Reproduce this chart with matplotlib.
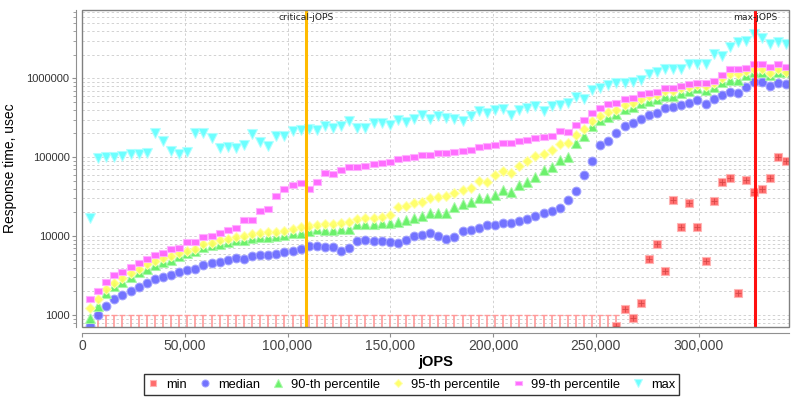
import numpy as np
import matplotlib
matplotlib.use('Agg')
import matplotlib.pyplot as plt
from matplotlib.patches import Rectangle
from matplotlib.ticker import FixedLocator, FuncFormatter, NullFormatter

# RT curve: one point per 1% injection-rate step
step_jops = 3940
n_points = 87
jops = step_jops * np.arange(1, n_points + 1)

critical_jops = 108900
max_jops = 327600

# values in usec; 0 = below the plotted range
min_us = [np.nan] + [0] * 64 + [
    720, 1202, 925, 1407, 5175, 8015, 3580, 28900, 12940, 26040, 12940,
    4830, 27870, 48100, 54000, 1900, 51900, 35900, 39200, 55000, 100700, 88800]

median_us = [
    726, 1000, 1300, 1610, 1808, 2015, 2284, 2518, 2833, 3000, 3213, 3508,
    3718, 3795, 4305, 4562, 4697, 4933, 5234, 5175, 5598, 5718,
    5825, 5935, 6240, 6535, 6810, 7436, 7570, 7210, 7210, 6535, 7000, 8670,
    9020, 8755, 8670, 8497, 8180, 9020, 10110, 10410, 10900,
    9930, 9190, 9650, 11610, 11850, 12680, 13960, 13750, 14650, 14780, 15520,
    16620, 18150, 19460, 20800, 22900, 28900, 36950, 59000, 88800, 143900, 161000,
    205000, 249000, 269000, 302000, 343000, 360000, 421000, 429000, 455000,
    482000, 531000, 469000, 542000, 614000, 665000, 658000, 776000, 889000,
    905000, 792000, 880000, 839000]

p90_us = [
    908, 1300, 1918, 2333, 2645, 3034, 3508, 3865, 4345, 4745, 5025, 5546,
    6110, 6415, 7210, 7640, 8015, 8415, 8845, 8925, 9380, 9800,
    9820, 10020, 10230, 10860, 11050, 11710, 12400, 11940, 12050, 12180, 12400,
    14230, 14230, 14360, 14500, 14650, 14960, 16000, 16960, 17810, 19400,
    19630, 19630, 23170, 25290, 27050, 30130, 30130, 33180, 38040, 35900, 44440,
    48500, 56100, 68200, 75100, 91400, 100600, 151400, 185600, 250800, 296000, 326000,
    350000, 405000, 437000, 482000, 516000, 542000, 603000, 603000, 658000,
    690000, 747000, 711000, 783000, 897000, 951000, 951000, 1112000, 1191000,
    1191000, 1102000, 1191000, 1191000]

p95_us = [
    1216, 1610, 2138, 2570, 2920, 3377, 3828, 4390, 4876, 5275, 5646, 6055,
    6475, 6865, 7945, 8247, 8925, 9105, 9820, 10110, 10630, 10900,
    11180, 11280, 11510, 12200, 12930, 13430, 13960, 14100, 14100, 14520, 14960,
    16330, 16960, 17100, 17620, 18500, 23370, 24060, 26040, 27300, 30100,
    31000, 32200, 35200, 38000, 41000, 49900, 48900, 60000, 66800, 63700, 77400,
    88800, 103500, 110700, 124400, 145600, 151000, 193000, 225600, 290000, 336000, 377000,
    397000, 459000, 482000, 542000, 597000, 620000, 690000, 697000, 754000,
    783000, 830000, 792000, 865000, 1009000, 1125000, 1125000, 1239000, 1300000,
    1300000, 1178000, 1300000, 1202000]

p99_us = [
    1597, 2015, 2595, 3213, 3508, 4027, 4606, 5175, 5718, 6055, 6925, 7129,
    8497, 8497, 9820, 10020, 10940, 12050, 12550, 15870, 15870, 20990,
    22030, 32200, 39150, 44040, 47550, 39900, 48100, 63700, 60700, 69500, 74500,
    75200, 77400, 81300, 84400, 86900, 95700, 98600, 101500, 106600, 108000,
    113000, 114000, 115000, 121000, 123000, 136000, 139000, 144000, 151000, 150000,
    159000, 165000, 177000, 179000, 187000, 213000, 211000, 256000, 299000, 366000,
    417000, 470000,
    486000, 542000, 568000, 627000, 651000, 676000, 747000, 747000, 798000,
    839000, 880000, 865000, 933000, 1092000, 1300000, 1300000, 1362000, 1503000,
    1503000, 1403000, 1503000, 1403000]

max_us = [
    17100, 98600, 100000, 101500, 103500, 110000, 110000, 113000, 205000, 159000,
    121000, 110000, 116000, 203000, 200000, 177000, 132000, 135000, 130000,
    144000, 195000, 157000,
    139000, 184000, 184000, 213000, 219000, 228000, 221000, 249000, 232000,
    246000, 288000, 236000, 236000, 269000, 274000, 258000, 294000, 277000,
    302000, 340000, 308000,
    333000, 311000, 302000, 288000, 330000, 385000, 363000, 400000, 408000,
    343000, 397000, 424000, 442000, 385000, 446000, 463000, 482000, 580000,
    547000, 705000, 747000, 822000,
    865000, 880000, 905000, 944000, 1125000, 1213000, 1313000, 1300000, 1300000,
    1518000, 1530000, 1530000, 2030000, 1917000, 2518000, 2912000, 3000000,
    3614000, 3245000, 2723000, 2886000, 2723000]

y_lo, y_hi = 705, 7.35e6
x_hi = 344000

wide_rect = [(-1, -0.6), (1, -0.6), (1, 0.6), (-1, 0.6), (-1, -0.6)]

series = [
    ('min', min_us, 's', '#ff5c5c', '#ffb4b4', 6.0),
    ('median', median_us, 'o', '#6464ff', '#a0a0ff', 6.3),
    ('90-th percentile', p90_us, '^', '#5cf05c', '#a8f8a8', 6.8),
    ('95-th percentile', p95_us, 'D', '#ffff5c', '#ffffb0', 4.8),
    ('99-th percentile', p99_us, wide_rect, '#ff5cff', '#ffb0ff', 6.3),
    ('max', max_us, 'v', '#5cffff', '#b0ffff', 6.8),
]

fig = plt.figure(figsize=(8, 4), dpi=100)
ax = fig.add_axes([82 / 800, 1 - 327 / 400, 707 / 800, 317 / 400])
ax.set_yscale('log')
ax.set_xlim(0, x_hi)
ax.set_ylim(y_lo, y_hi)

# grid
ax.set_axisbelow(True)
grid_kw = dict(color='#d2d2d2', lw=0.7, linestyle=(0, (2.5, 2.5)))
ax.grid(True, which='major', axis='both', **grid_kw)
ax.grid(True, which='minor', axis='y', **grid_kw)

# min values below the range: drawn as "T" markers at the bottom
mins = np.array(min_us, dtype=float)
below = mins < 750
ax.vlines(jops[below], y_lo, 1000, color='#ff9a9a', lw=1.2, zorder=2)
ax.plot(jops[below], np.full(below.sum(), 1000.0), linestyle='none',
        marker='_', ms=5, mew=1.0, color='#ff9a9a', zorder=2)

handles = []
for name, vals, mk, fc, ec, ms in series:
    v = np.array(vals, dtype=float)
    v[v <= 0] = np.nan
    h, = ax.plot(jops, v, linestyle='none', marker=mk, ms=ms,
                 markerfacecolor=fc, markeredgecolor=ec, mew=0.8,
                 alpha=0.9, zorder=3, label=name)
    handles.append(h)
# faint crosses inside the min squares
ax.plot(jops, np.where(mins > 0, mins, np.nan), linestyle='none', marker='+',
        ms=4, mew=0.6, color='#c03030', alpha=0.6, zorder=4)

# critical / max jOPS lines
ax.axvline(critical_jops, color='#ffbb00', lw=2.2, zorder=5)
ax.axvline(max_jops, color='#ff1010', lw=2.2, zorder=5)
lbl_kw = dict(ha='center', va='center', fontsize=6.6, family='DejaVu Sans',
              color='#202020', zorder=7, transform=ax.get_xaxis_transform())
ax.text(critical_jops, 0.975, 'critical-jOPS', **lbl_kw)
ax.text(max_jops, 0.975, 'max-jOPS', **lbl_kw)

# frame + offset axis lines
for s in ('top', 'right'):
    ax.spines[s].set_visible(False)
for s in ('left', 'bottom'):
    ax.spines[s].set_position(('outward', 4))
    ax.spines[s].set_color('#909090')
ax.add_patch(Rectangle((0, 0), 1, 1, transform=ax.transAxes, fill=False,
                       edgecolor='#808080', lw=1.0, clip_on=False, zorder=6))

# ticks
ax.yaxis.set_major_locator(FixedLocator([1e3, 1e4, 1e5, 1e6]))
ax.yaxis.set_minor_locator(FixedLocator(
    [m * 10 ** e for e in range(2, 7) for m in range(2, 10)]))
ax.yaxis.set_major_formatter(FuncFormatter(lambda v, p: '%d' % round(v)))
ax.yaxis.set_minor_formatter(NullFormatter())
ax.xaxis.set_major_locator(FixedLocator(range(0, 350000, 50000)))
ax.xaxis.set_major_formatter(FuncFormatter(lambda v, p: '{:,}'.format(int(v))))
ax.tick_params(axis='both', which='both', direction='out', color='#909090')
ax.tick_params(axis='y', which='major', length=3, pad=2, labelsize=8,
               labelcolor='#333333')
ax.tick_params(axis='y', which='minor', length=2)
ax.tick_params(axis='x', which='major', length=3, pad=2, labelsize=10,
               labelcolor='#444444')
for t in ax.get_xticklabels() + ax.get_yticklabels():
    t.set_family('Liberation Sans')

ax.set_xlabel('jOPS', fontsize=10.5, fontweight='bold', family='Liberation Sans',
              labelpad=1)
ax.set_ylabel('Response time, usec', fontsize=10, family='Liberation Sans',
              labelpad=7)

leg = fig.legend(handles=handles, loc='center', ncol=6,
                 bbox_to_anchor=(411.5 / 800, 1 - 384.5 / 400),
                 prop={'family': 'Liberation Sans', 'size': 9.3},
                 frameon=True, fancybox=False, edgecolor='black',
                 handlelength=0.8, handletextpad=0.6, columnspacing=1.0,
                 borderpad=0.35, markerscale=0.8)
leg.get_frame().set_linewidth(1.0)

fig.savefig('out.png', dpi=100)
